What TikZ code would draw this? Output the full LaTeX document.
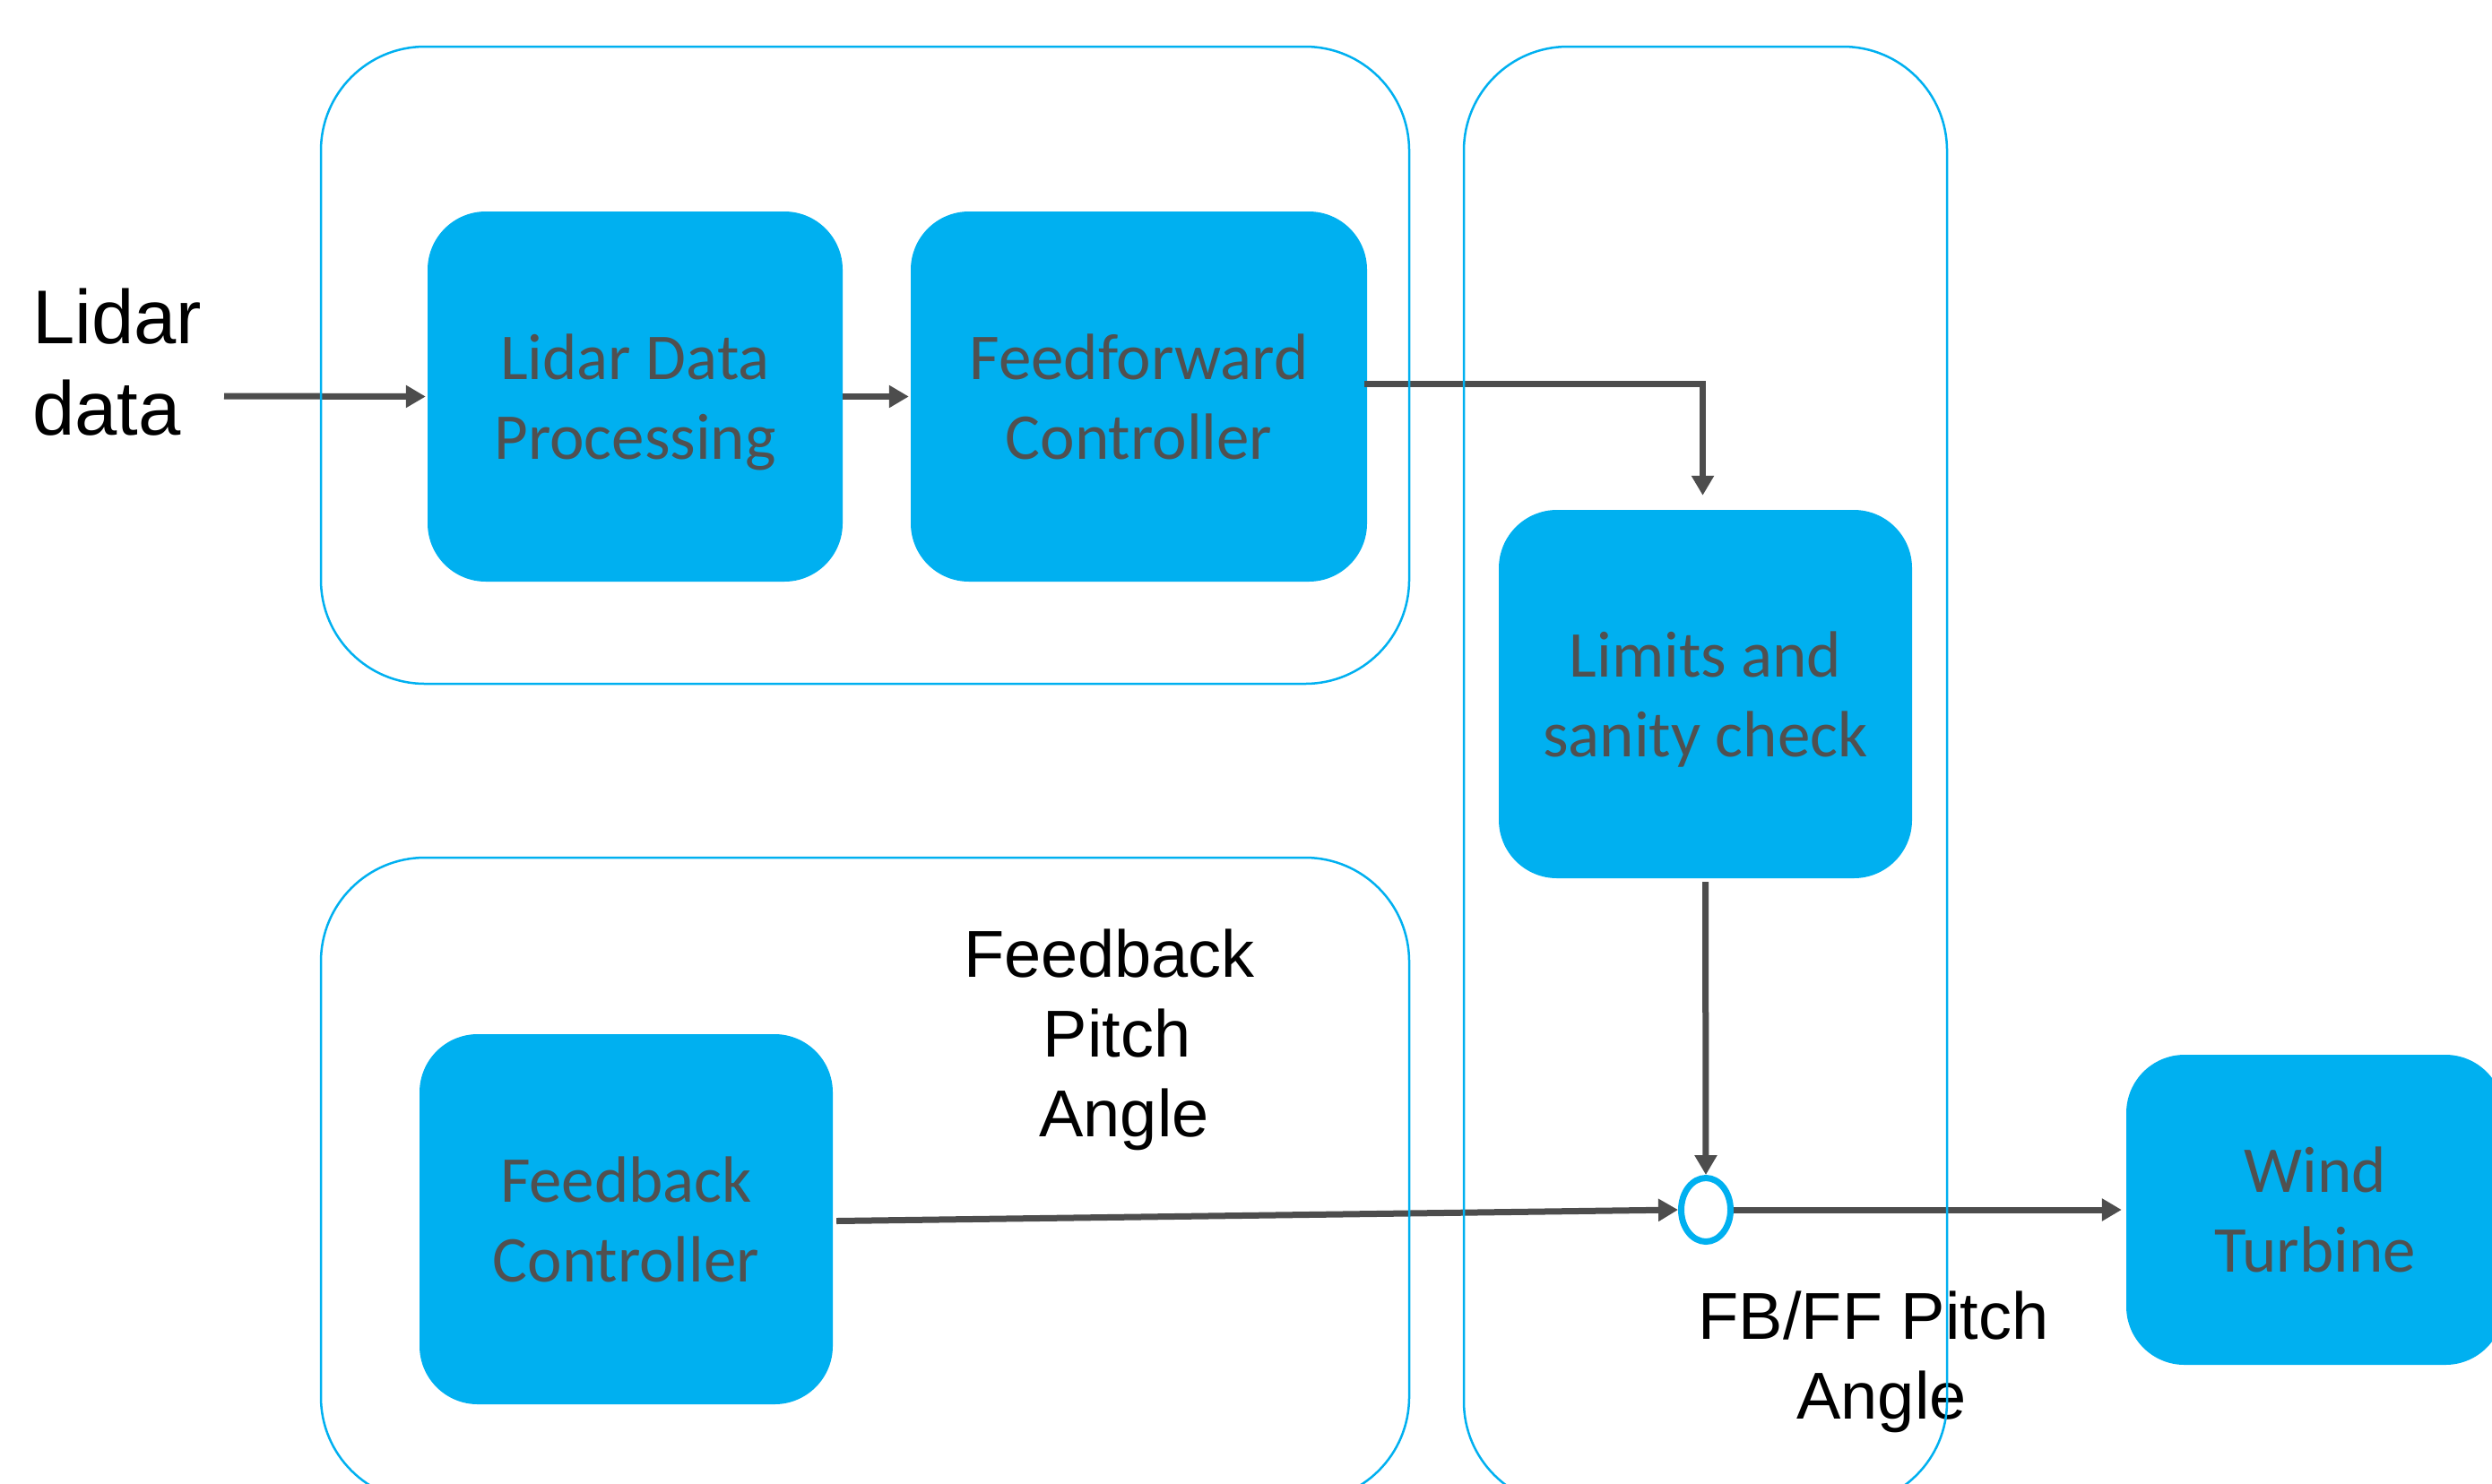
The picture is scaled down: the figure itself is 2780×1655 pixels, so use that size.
\documentclass[tikz,border=0pt]{standalone}
\usepackage{fontspec}
\setmainfont{Liberation Sans}
\newfontfamily\boxfont{Carlito}
\usetikzlibrary{arrows.meta,shapes.geometric}
\definecolor{cyanb}{HTML}{00B0F0}
\definecolor{arrgray}{HTML}{4D4D4D}
\definecolor{txtgray}{HTML}{505050}
\newcommand{\nodepth}[1]{\raisebox{0pt}[\height][0pt]{#1}}
\tikzset{
  blk/.style={fill=cyanb, rounded corners=65pt, inner sep=0pt, text=txtgray,
    font=\boxfont\fontsize{73}{89}\selectfont, align=center},
  lbl/.style={font=\fontsize{74}{89}\selectfont, align=center, inner sep=0pt, text=black},
  arr/.style={draw=arrgray, line width=7pt, -{Triangle[length=22pt,width=24pt]}},
  frame/.style={draw=cyanb, line width=2.5pt, rounded corners=116pt},
  junction/.style={ellipse, draw=cyanb, line width=7pt, fill=white, inner sep=0pt,
    minimum width=55pt, minimum height=71pt}
}
\begin{document}
\begin{tikzpicture}[x=1pt,y=-1pt]
\useasboundingbox (0,0) rectangle (2780,1655);
\fill[white] (0,0) rectangle (2780,1655);

% blocks
\node[blk, minimum width=463pt, minimum height=413pt] (lidarproc) at (708.5,442.5) {Lidar Data\\\nodepth{Processing}};
\node[blk, minimum width=509pt, minimum height=413pt] (ff) at (1270.5,442.5) {Feedforward\\\nodepth{Controller}};
\node[blk, minimum width=461pt, minimum height=411pt] (limits) at (1902.5,774.5) {Limits and\\\nodepth{sanity check}};
\node[blk, minimum width=461pt, minimum height=413pt] (fbc) at (698.5,1360.5) {Feedback\\\nodepth{Controller}};
\node[blk, minimum width=421pt, minimum height=346pt] (wt) at (2582.5,1350) {Wind\\\nodepth{Turbine}};
\node[junction] (sum) at (1903,1350) {};

% labels
\node[lbl, font=\fontsize{85}{102}\selectfont, align=left, anchor=west] (lidarlbl) at (36,404) {Lidar\\data};
\node[lbl] (fblbl) at (1246,1160) {Feedback\hspace*{17pt}\\Pitch\\\hspace*{16pt}Angle};
\node[lbl] (fbfflbl) at (2090,1519.5) {FB/FF Pitch\\\hspace*{18pt}Angle};

% connectors
\coordinate (lidin) at (250,442);
\draw[arr] (lidin) -- ([xshift=-2pt]lidarproc.west);
\draw[arr] (lidarproc.east) -- ([xshift=-2pt]ff.west);
\draw[arr, shorten >=16pt] ([xshift=-3pt,yshift=14pt]ff.east) -| ([xshift=-3pt]limits.north);
\draw[arr] ([yshift=-4pt]limits.south) -- (sum.north);
\draw[arr] ([xshift=4pt,yshift=-2pt]fbc.east) -- (sum.west);
\draw[arr] (sum.east) -- ([xshift=-5pt]wt.west);

% frames (drawn on top)
\draw[frame] (358,52) rectangle (1572,763);
\draw[frame] (358,957) rectangle (1572,1675);
\draw[frame] (1633,52) rectangle (2172,1680);
\end{tikzpicture}
\end{document}
